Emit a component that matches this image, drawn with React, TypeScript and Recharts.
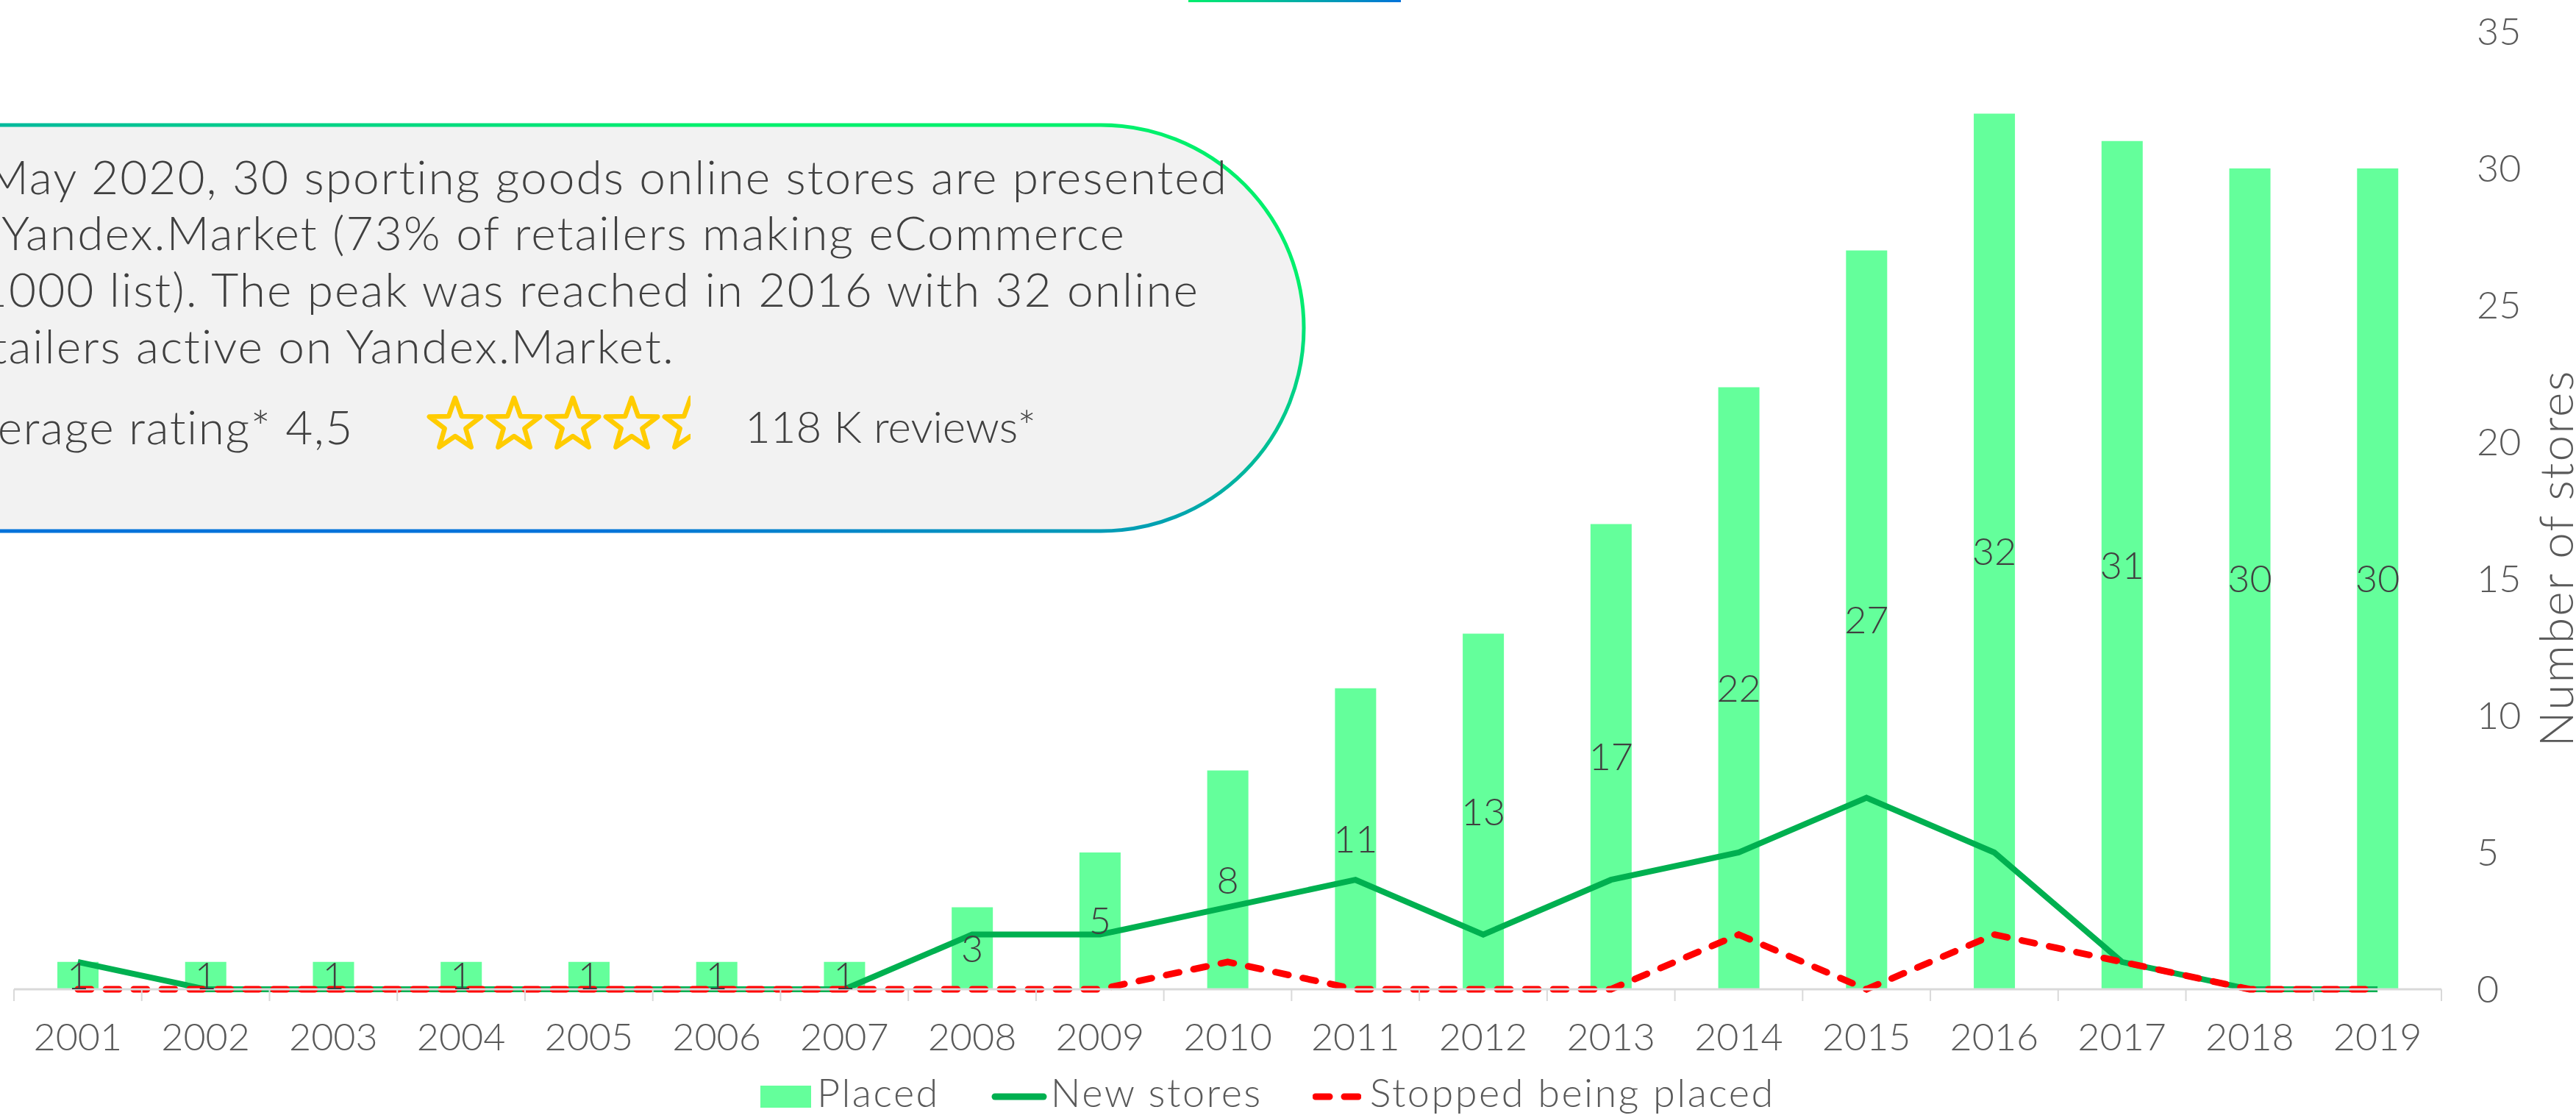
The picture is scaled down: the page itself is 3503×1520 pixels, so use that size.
import React from 'react'
import { ComposedChart, Bar, Line, XAxis, YAxis, Legend, LabelList } from 'recharts'

const FONT = "Lato, 'Open Sans', sans-serif"

// values
const years = ['2001', '2002', '2003', '2004', '2005', '2006', '2007', '2008', '2009', '2010',
  '2011', '2012', '2013', '2014', '2015', '2016', '2017', '2018', '2019']
const placed = [1, 1, 1, 1, 1, 1, 1, 3, 5, 8, 11, 13, 17, 22, 27, 32, 31, 30, 30]
const newStores = [1, 0, 0, 0, 0, 0, 0, 2, 2, 3, 4, 2, 4, 5, 7, 5, 1, 0, 0]
const stopped = [0, 0, 0, 0, 0, 0, 0, 0, 0, 1, 0, 0, 0, 2, 0, 2, 1, 0, 0]
const yTicks = [0, 5, 10, 15, 20, 25, 30, 35]

const calloutLines = [
  'In May 2020, 30 sporting goods online stores are presented',
  'on Yandex.Market (73% of retailers making eCommerce',
  'TOP1000 list). The peak was reached in 2016 with 32 online',
  'retailers active on Yandex.Market.',
]
const ratingText = 'Average rating* 4,5'
const rating = 4.5
const reviewsText = '118 K reviews*'

const BAR_COLOR = '#64ff9b'
const NEW_COLOR = '#00b050'
const STOP_COLOR = '#ff0000'
const AXIS_GREY = '#d9d9d9'
const TEXT_GREY = '#595959'

const rows = years.map((year, i) => ({
  year,
  placed: placed[i],
  newStores: newStores[i],
  stopped: stopped[i],
}))

const TICK_SIZE = 16
const TICK_MARGIN = 30

function XTick(props: any) {
  const { x, y, payload, index } = props
  const half = payload && typeof payload.offset === 'number' && payload.offset > 0 ? payload.offset : 86.9
  const axisY = y - TICK_SIZE - TICK_MARGIN
  return (
    <g>
      <line x1={x - half} x2={x - half} y1={axisY} y2={axisY + TICK_SIZE} stroke={AXIS_GREY} strokeWidth={2} />
      {index === years.length - 1 && (
        <line x1={x + half} x2={x + half} y1={axisY} y2={axisY + TICK_SIZE} stroke={AXIS_GREY} strokeWidth={2} />
      )}
      <text x={x} y={y} dy="0.71em" textAnchor="middle" fill={TEXT_GREY} fontSize={52} fontWeight={300}>
        {payload.value}
      </text>
    </g>
  )
}

function YTitle(props: any) {
  const vb = props.viewBox || { x: 3320, y: 43, width: 183, height: 1302 }
  const cx = vb.x + 154
  const cy = vb.y + vb.height / 2 + 65
  return (
    <text
      x={cx}
      y={cy}
      transform={`rotate(-90, ${cx}, ${cy})`}
      textAnchor="middle"
      dominantBaseline="central"
      fill={TEXT_GREY}
      fontSize={64}
      fontWeight={300}
      letterSpacing={2}
    >
      Number of stores
    </text>
  )
}

function LegendRow() {
  const txt: React.CSSProperties = {
    fontSize: 54,
    fontWeight: 300,
    color: TEXT_GREY,
    lineHeight: 1,
    whiteSpace: 'nowrap',
    letterSpacing: 2.5,
  }
  return (
    <div style={{ position: 'relative', width: 3503, height: 70 }}>
      <div style={{ position: 'absolute', left: 1034, top: 0, height: 70, display: 'flex', alignItems: 'center' }}>
        <div style={{ width: 69, height: 30, background: BAR_COLOR, marginRight: 8, marginTop: 12 }} />
        <span style={{ ...txt, marginRight: 70 }}>Placed</span>
        <svg width={76} height={12} style={{ marginRight: 5, marginTop: 12 }}>
          <line x1={5} x2={71} y1={6} y2={6} stroke={NEW_COLOR} strokeWidth={9} strokeLinecap="round" />
        </svg>
        <span style={{ ...txt, marginRight: 68 }}>New stores</span>
        <svg width={66} height={12} style={{ marginRight: 12, marginTop: 12 }}>
          <line x1={4} x2={62} y1={6} y2={6} stroke={STOP_COLOR} strokeWidth={9} strokeLinecap="round" strokeDasharray="19 20" />
        </svg>
        <span style={txt}>Stopped being placed</span>
      </div>
    </div>
  )
}

function starPath(cx: number, cy: number, R: number, r: number) {
  const pts: string[] = []
  for (let i = 0; i < 10; i++) {
    const rad = i % 2 === 0 ? R : r
    const a = -Math.PI / 2 + (i * Math.PI) / 5
    pts.push(`${(cx + rad * Math.cos(a)).toFixed(1)},${(cy + rad * Math.sin(a)).toFixed(1)}`)
  }
  return `M${pts.join('L')}Z`
}

function Callout() {
  const top = 170
  const bottom = 722
  const right = 1773
  const r = (bottom - top) / 2
  const baselines = [264, 340, 417, 494]
  const ends = [1670, 1531, 1631, 918]
  const starCx = 619
  const starPitch = 80
  const starCy = 578
  const textStyle = { fill: '#404040', fontSize: 64, fontWeight: 300 }
  return (
    <svg
      width={3503}
      height={1520}
      style={{ position: 'absolute', left: 0, top: 0, pointerEvents: 'none', fontFamily: FONT }}
    >
      <defs>
        <linearGradient id="pillStroke" gradientUnits="userSpaceOnUse" x1={950} y1={170} x2={800} y2={722}>
          <stop offset="0" stopColor="#00f06c" />
          <stop offset="1" stopColor="#0072da" />
        </linearGradient>
        <linearGradient id="topBar" x1="0" y1="0" x2="1" y2="0">
          <stop offset="0" stopColor="#00f06c" />
          <stop offset="1" stopColor="#0072da" />
        </linearGradient>
        {Array.from({ length: 5 }).map((_, i) => {
          const frac = Math.max(0, Math.min(1, rating - i))
          return (
            <clipPath id={`starClip${i}`} key={i}>
              <rect x={starCx + i * starPitch - 45} y={starCy - 50} width={90 * frac} height={100} />
            </clipPath>
          )
        })}
      </defs>
      <rect x={1616} y={0} width={289} height={3} fill="url(#topBar)" />
      <path
        d={`M -100 ${top} H ${right - r} A ${r} ${r} 0 0 1 ${right - r} ${bottom} H -100 Z`}
        fill="#f2f2f2"
        stroke="url(#pillStroke)"
        strokeWidth={5}
      />
      {calloutLines.map((line, i) => (
        <text key={i} x={ends[i]} y={baselines[i]} textAnchor="end" letterSpacing={2} {...textStyle}>
          {line}
        </text>
      ))}
      <text x={481} y={604} textAnchor="end" letterSpacing={1.5} {...textStyle}>
        {ratingText}
      </text>
      {Array.from({ length: 5 }).map((_, i) => (
        <path
          key={i}
          d={starPath(starCx + i * starPitch, starCy, 37, 15)}
          fill="none"
          stroke="#ffcc00"
          strokeWidth={6.5}
          strokeLinejoin="round"
          clipPath={`url(#starClip${i})`}
        />
      ))}
      <text x={1013} y={602} fill="#404040" fontSize={60} fontWeight={300}>
        {reviewsText}
      </text>
    </svg>
  )
}

export default function App() {
  return (
    <div
      style={{
        position: 'absolute',
        left: 0,
        top: 0,
        width: 3503,
        height: 1520,
        overflow: 'hidden',
        background: '#ffffff',
        fontFamily: FONT,
      }}
    >
      <ComposedChart width={3503} height={1520} data={rows} margin={{ top: 43, right: 0, left: 19, bottom: 0 }}>
        <XAxis
          dataKey="year"
          interval={0}
          height={105}
          tickSize={TICK_SIZE}
          tickMargin={TICK_MARGIN}
          tickLine={false}
          axisLine={{ stroke: AXIS_GREY, strokeWidth: 3 }}
          tick={<XTick />}
        />
        <YAxis
          orientation="right"
          width={183}
          domain={[0, 35]}
          ticks={yTicks}
          interval={0}
          axisLine={false}
          tickLine={false}
          tickSize={0}
          tickMargin={48}
          tick={{ fill: TEXT_GREY, fontSize: 52, fontWeight: 300 }}
          label={<YTitle />}
        />
        <Legend
          verticalAlign="bottom"
          height={70}
          content={() => <LegendRow />}
          wrapperStyle={{ left: 0, top: 1450, bottom: 'auto', width: 3503, height: 70 }}
        />
        <Bar dataKey="placed" name="Placed" fill={BAR_COLOR} barSize={56} isAnimationActive={false}>
          <LabelList dataKey="placed" position="center" fill="#404040" fontSize={52} fontWeight={300} />
        </Bar>
        <Line
          type="linear"
          dataKey="newStores"
          name="New stores"
          stroke={NEW_COLOR}
          strokeWidth={8}
          dot={false}
          activeDot={false}
          isAnimationActive={false}
        />
        <Line
          type="linear"
          dataKey="stopped"
          name="Stopped being placed"
          stroke={STOP_COLOR}
          strokeWidth={9}
          strokeDasharray="18 20"
          strokeLinecap="round"
          dot={false}
          activeDot={false}
          isAnimationActive={false}
        />
      </ComposedChart>
      <Callout />
    </div>
  )
}
